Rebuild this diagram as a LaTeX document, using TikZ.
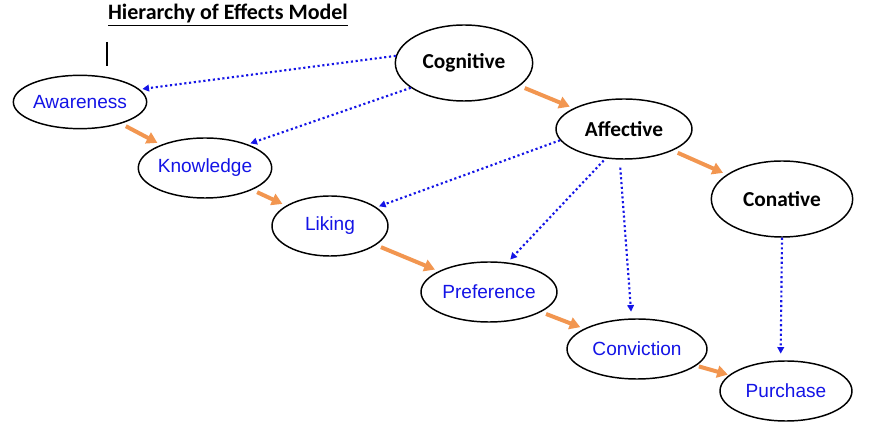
\documentclass[tikz,border=0pt]{standalone}
\usepackage{fontspec}
\setmainfont{Carlito}
\newfontfamily\arialf{Liberation Sans}
\usetikzlibrary{shapes.geometric,arrows.meta}
\definecolor{org}{RGB}{242,150,80}
\definecolor{blu}{RGB}{20,20,230}
\begin{document}
\begin{tikzpicture}[x=0.75pt,y=-0.75pt,
  el/.style={ellipse,draw=black,line width=1.1pt,fill=white,inner sep=0pt},
  lo/.style={el,text=blu,font=\arialf\fontsize{14.3}{16}\selectfont},
  hi/.style={el,font=\fontsize{16}{18}\selectfont\bfseries},
  oa/.style={draw=org,line width=3pt,-{Triangle[length=8pt,width=9pt]},shorten <=4pt,shorten >=3pt},
  ba/.style={draw=blu,line width=1.6pt,dotted,-{Triangle[length=5pt,width=5pt]}}]
\useasboundingbox (0,0) rectangle (875,441);
\node[font=\fontsize{16.5}{18}\selectfont\bfseries] (title) at (228,15) {\underline{Hierarchy of Effects Model}};
\coordinate (m1) at (107,42); \coordinate (m2) at (107,66);
\draw[line width=0.9pt] (m1) -- (m2);
\node[lo,minimum width=100pt,minimum height=40pt] (aw) at (80,102) {Awareness};
\node[lo,minimum width=97pt,minimum height=45pt] (kn) at (205,168) {Knowledge};
\node[lo,minimum width=87pt,minimum height=45pt] (li) at (330,226) {Liking};
\node[lo,minimum width=102pt,minimum height=45pt] (pr) at (489,292) {Preference};
\node[lo,minimum width=105pt,minimum height=45pt] (cv) at (637,349) {Conviction};
\node[lo,minimum width=99pt,minimum height=45pt] (pu) at (786,391) {Purchase};
\node[hi,minimum width=103pt,minimum height=57pt] (cog) at (464,63) {Cognitive};
\node[hi,minimum width=102pt,minimum height=45pt] (af) at (624,129) {Affective};
\node[hi,minimum width=106pt,minimum height=57pt] (con) at (782,199) {Conative};
\draw[oa] (aw) -- (kn);
\draw[oa] (kn) -- (li);
\draw[oa] (li) -- (pr);
\draw[oa] (pr) -- (cv);
\draw[oa,shorten <=2pt,shorten >=1pt] (cv) -- (pu);
\draw[oa] (cog) -- (af);
\draw[oa] (af) -- (con);
\draw[ba,shorten >=2pt] (cog.174) -- (aw.12);
\draw[ba,shorten >=2pt] (cog.205) -- (kn.29);
\draw[ba,shorten >=2pt] (af.190) -- (li.22);
\draw[ba,shorten <=2pt,shorten >=3pt] (af.238) -- (pr.58);
\draw[ba,shorten <=6pt,shorten >=5pt] (af.262) -- (cv.100);
\draw[ba,shorten >=5pt] (con.270) -- (pu.100);
\end{tikzpicture}
\end{document}
